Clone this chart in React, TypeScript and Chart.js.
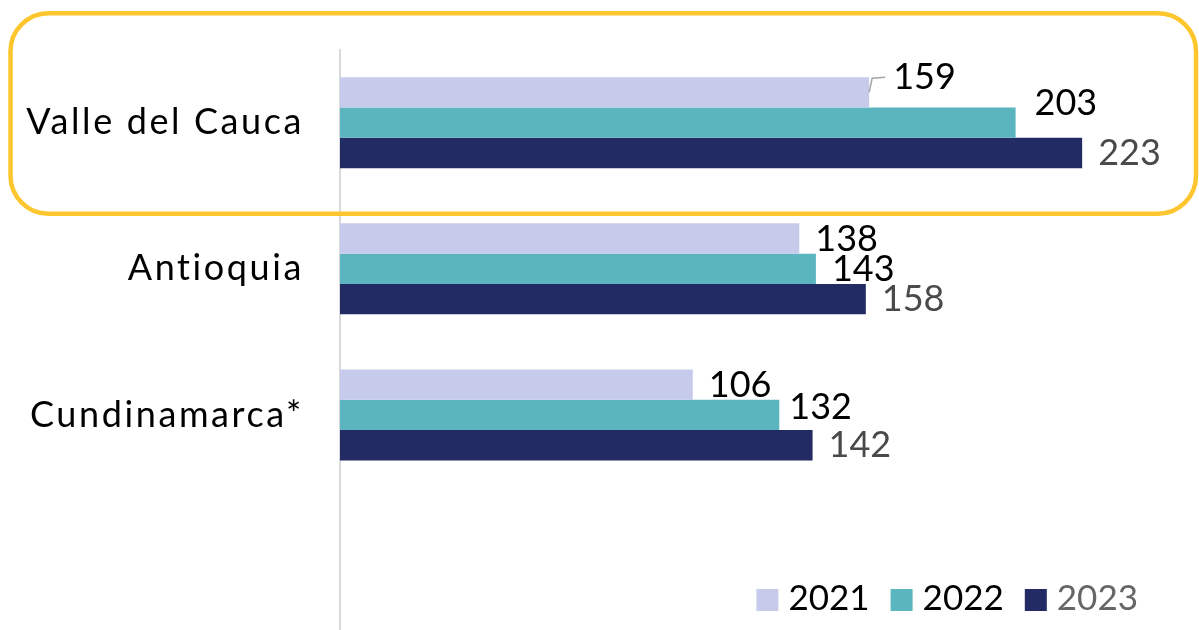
import React, { useEffect, useRef } from "react";
import { Chart, registerables } from "chart.js";

Chart.register(...registerables);

const categories = ["Valle del Cauca", "Antioquia", "Cundinamarca*"];
const seriesLabels = ["2021", "2022", "2023"];
const values2021 = [159, 138, 106];
const values2022 = [203, 143, 132];
const values2023 = [223, 158, 142];

const COLORS = ["#c6cbeb", "#5bb5bf", "#222b63"];
const LABEL_COLORS = ["#000000", "#000000", "#4a4a4a"];
const LEGEND_COLORS = ["#000000", "#000000", "#666666"];
const FONT = "Lato, 'Noto Sans', sans-serif";

// label nudges keyed by "dataset-index": [dx, dy, leader]
const NUDGES: Record<string, [number, number, boolean?]> = {
  "0-0": [8, -15, true],
  "1-0": [3, -20],
  "1-2": [-6, -8],
};

const decorPlugin = {
  id: "decor",
  beforeDraw(chart: any) {
    const { ctx, chartArea, height } = chart;
    ctx.save();
    ctx.strokeStyle = "#d9d9d9";
    ctx.lineWidth = 2;
    ctx.beginPath();
    ctx.moveTo(chartArea.left, 49);
    ctx.lineTo(chartArea.left, height);
    ctx.stroke();
    ctx.restore();
    // wider tracking for category labels
    (ctx as any).letterSpacing = "2.6px";
  },
  beforeDatasetsDraw(chart: any) {
    (chart.ctx as any).letterSpacing = "0px";
  },
  afterDatasetsDraw(chart: any) {
    const { ctx } = chart;
    ctx.save();
    (ctx as any).letterSpacing = "0px";
    ctx.font = `36px ${FONT}`;
    ctx.textBaseline = "middle";
    ctx.textAlign = "left";
    chart.data.datasets.forEach((ds: any, i: number) => {
      const meta = chart.getDatasetMeta(i);
      meta.data.forEach((el: any, j: number) => {
        const v = ds.data[j];
        if (v == null) return;
        const n = NUDGES[`${i}-${j}`] || [0, 0];
        const x = el.x + 16 + n[0];
        const y = el.y + 0.5 + n[1];
        if (n[2]) {
          ctx.strokeStyle = "#a6a6a6";
          ctx.lineWidth = 1.5;
          ctx.beginPath();
          ctx.moveTo(el.x, el.y);
          ctx.lineTo(el.x + 3, el.y - 14);
          ctx.lineTo(el.x + 16, el.y - 15);
          ctx.stroke();
        }
        ctx.fillStyle = LABEL_COLORS[i];
        ctx.fillText(String(v), x, y);
      });
    });
    ctx.restore();
  },
  afterDraw(chart: any) {
    const { ctx } = chart;
    ctx.save();
    (ctx as any).letterSpacing = "0px";
    const yScale = chart.scales.y;
    const c0 = yScale.getPixelForValue(0);
    const top = c0 - 109.5;
    const bottom = c0 + 91;
    const left = 10.5;
    const right = 1196;
    const r = 38;
    ctx.strokeStyle = "#fec62e";
    ctx.lineWidth = 4.5;
    ctx.beginPath();
    ctx.roundRect(left, top, right - left, bottom - top, r);
    ctx.stroke();

    ctx.font = `35px ${FONT}`;
    ctx.textBaseline = "middle";
    ctx.textAlign = "left";
    let x = 1138;
    const ly = 598;
    const box = 22;
    for (let i = chart.data.datasets.length - 1; i >= 0; i--) {
      const ds = chart.data.datasets[i];
      const w = ctx.measureText(ds.label).width;
      const tx = x - w;
      ctx.fillStyle = LEGEND_COLORS[i];
      ctx.fillText(ds.label, tx, ly + 1);
      const bx = tx - 10 - box;
      ctx.fillStyle = ds.backgroundColor;
      ctx.fillRect(bx, ly - box / 2 + 2, box, box);
      x = bx - 21;
    }
    ctx.restore();
  },
};

export default function App() {
  const ref = useRef<HTMLCanvasElement | null>(null);
  useEffect(() => {
    if (!ref.current) return;
    const chart = new Chart(ref.current, {
      type: "bar",
      data: {
        labels: categories,
        datasets: [
          { label: seriesLabels[0], data: values2021, backgroundColor: COLORS[0] },
          { label: seriesLabels[1], data: values2022, backgroundColor: COLORS[1] },
          { label: seriesLabels[2], data: values2023, backgroundColor: COLORS[2] },
        ],
      },
      options: {
        indexAxis: "y",
        animation: false,
        responsive: true,
        maintainAspectRatio: false,
        layout: { padding: { top: 42.5, bottom: 142, right: 27, left: 0 } },
        datasets: {
          bar: { categoryPercentage: 0.623, barPercentage: 1 },
        },
        plugins: {
          legend: { display: false },
          tooltip: { enabled: false },
        },
        scales: {
          x: { display: false, min: 0, max: 250 },
          y: {
            grid: { display: false },
            border: { display: false },
            ticks: {
              color: "#000000",
              font: { family: FONT, size: 36 },
              padding: 28,
            },
            afterFit(scale: any) {
              scale.width = 340;
            },
          },
        },
      },
      plugins: [decorPlugin],
    });
    return () => chart.destroy();
  }, []);
  return (
    <div style={{ position: "absolute", left: 0, top: 0, width: 1199, height: 630, background: "#fff" }}>
      <canvas ref={ref} />
    </div>
  );
}
